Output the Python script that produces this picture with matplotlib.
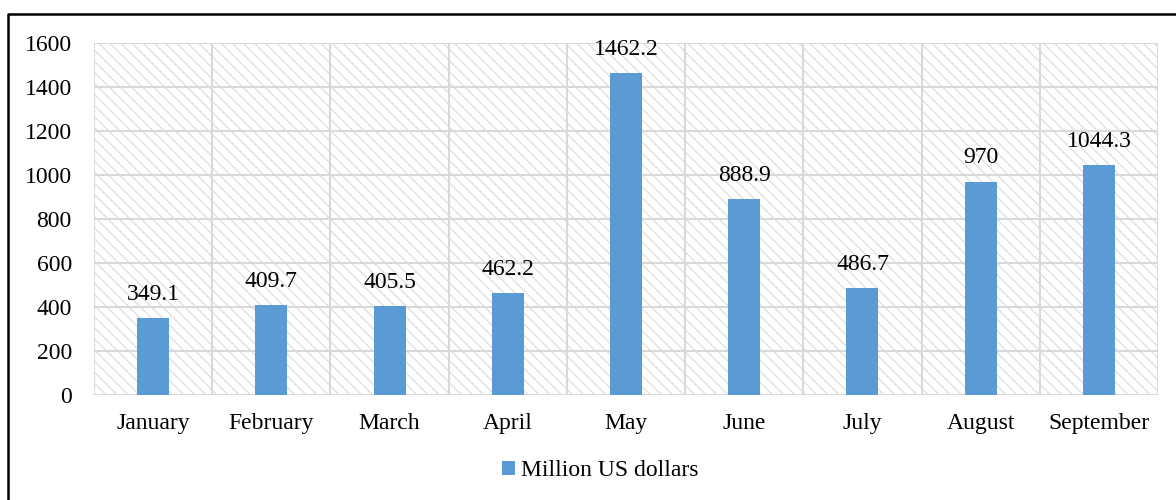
import matplotlib.pyplot as plt
import matplotlib.patches as mpatches
from matplotlib.lines import Line2D

# data
months = ["January", "February", "March", "April", "May", "June",
          "July", "August", "September"]
values = [349.1, 409.7, 405.5, 462.2, 1462.2, 888.9, 486.7, 970, 1044.3]
labels = ["349.1", "409.7", "405.5", "462.2", "1462.2", "888.9",
          "486.7", "970", "1044.3"]
yticks = [0, 200, 400, 600, 800, 1000, 1200, 1400, 1600]

plt.rcParams['font.family'] = ['Liberation Serif', 'DejaVu Serif']
plt.rcParams['hatch.linewidth'] = 0.85

BAR_COLOR = '#5b9bd5'
GRID_COLOR = '#d9d9d9'
FS = 17

fig = plt.figure(figsize=(11.76, 5), dpi=100)
ax = fig.add_axes([94 / 1176, 1 - 395 / 500, (1158 - 94) / 1176, (395 - 43) / 500])

x = list(range(len(months)))

# hatched background
bg = mpatches.Rectangle((0, 0), 1, 1, transform=ax.transAxes, facecolor='white',
                        edgecolor='#dcdcdc', hatch='\\\\\\', linewidth=0, zorder=0)
ax.add_patch(bg)

# grid
for yt in yticks:
    ax.axhline(yt, color=GRID_COLOR, lw=1.5, zorder=1)
for b in range(len(months) + 1):
    ax.axvline(b - 0.5, color=GRID_COLOR, lw=1.5, zorder=1)

bars = ax.bar(x, values, width=0.27, color=BAR_COLOR, zorder=3, label='Million US dollars')

for xi, v, lab in zip(x, values, labels):
    ax.annotate(lab, (xi, v), xytext=(0, 9.5), textcoords='offset points',
                ha='center', va='bottom', fontsize=FS)

ax.set_xlim(-0.5, len(months) - 0.5)
ax.set_ylim(0, 1600)
ax.set_yticks(yticks)
ax.set_yticklabels([str(t) for t in yticks], fontsize=FS)
ax.set_xticks(x)
ax.set_xticklabels(months, fontsize=FS)
ax.tick_params(axis='y', length=0, pad=16)
ax.tick_params(axis='x', length=0, pad=13)
for s in ax.spines.values():
    s.set_visible(False)

leg = fig.legend(handles=[bars], loc='center', bbox_to_anchor=(600 / 1176, 1 - 471 / 500),
                 frameon=False, fontsize=FS, handlelength=0.55, handleheight=0.55,
                 handletextpad=0.25)

# outer frame (only left and top edges inside the picture)
fig.add_artist(Line2D([7.5 / 1176, 7.5 / 1176, 1], [0, 1 - 13.5 / 500, 1 - 13.5 / 500],
                      transform=fig.transFigure, color='black', lw=1.8))

fig.savefig('out.png', dpi=100)
